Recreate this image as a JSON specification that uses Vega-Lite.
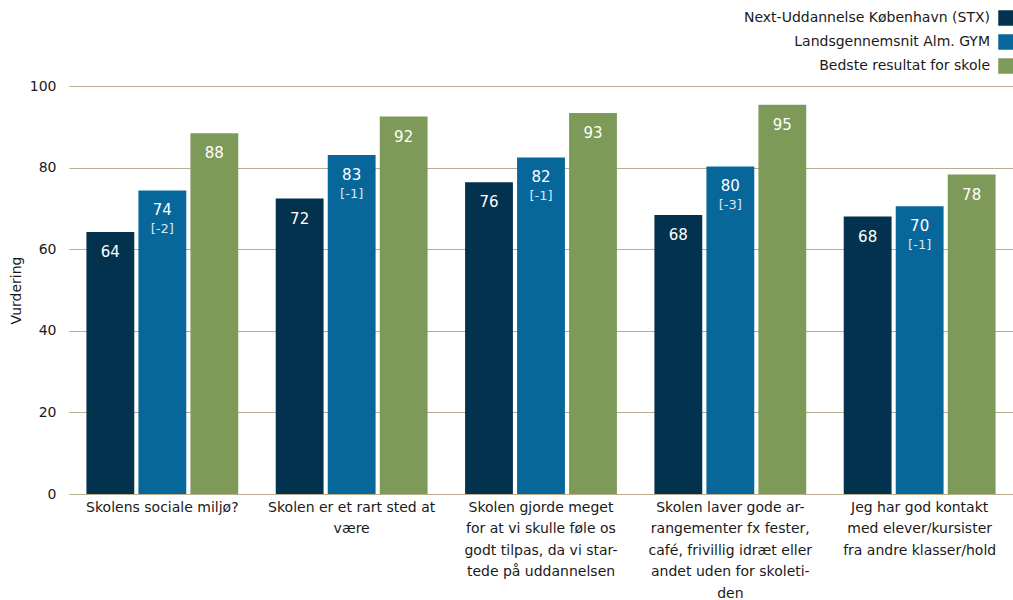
{
  "$schema": "https://vega.github.io/schema/vega-lite/v6.json",
  "width": 944,
  "height": 408,
  "autosize": {"type": "none"},
  "padding": {"left": 69, "top": 86, "right": 0, "bottom": 106},
  "background": "white",
  "config": {
    "font": "DejaVu Sans",
    "view": {"stroke": null},
    "axis": {"labelFont": "DejaVu Sans", "titleFont": "DejaVu Sans", "labelColor": "#1a1a1a", "titleColor": "#1a1a1a"}
  },
  "data": {
    "values": [
      {"q": "Skolens sociale miljø?", "s": "Next-Uddannelse København (STX)", "v": 64.2, "lab": "64", "diff": ""},
      {"q": "Skolens sociale miljø?", "s": "Landsgennemsnit Alm. GYM", "v": 74.4, "lab": "74", "diff": "[-2]"},
      {"q": "Skolens sociale miljø?", "s": "Bedste resultat for skole", "v": 88.4, "lab": "88", "diff": ""},
      {"q": "Skolen er et rart sted at|være", "s": "Next-Uddannelse København (STX)", "v": 72.4, "lab": "72", "diff": ""},
      {"q": "Skolen er et rart sted at|være", "s": "Landsgennemsnit Alm. GYM", "v": 83.1, "lab": "83", "diff": "[-1]"},
      {"q": "Skolen er et rart sted at|være", "s": "Bedste resultat for skole", "v": 92.5, "lab": "92", "diff": ""},
      {"q": "Skolen gjorde meget|for at vi skulle føle os|godt tilpas, da vi star-|tede på uddannelsen", "s": "Next-Uddannelse København (STX)", "v": 76.4, "lab": "76", "diff": ""},
      {"q": "Skolen gjorde meget|for at vi skulle føle os|godt tilpas, da vi star-|tede på uddannelsen", "s": "Landsgennemsnit Alm. GYM", "v": 82.5, "lab": "82", "diff": "[-1]"},
      {"q": "Skolen gjorde meget|for at vi skulle føle os|godt tilpas, da vi star-|tede på uddannelsen", "s": "Bedste resultat for skole", "v": 93.4, "lab": "93", "diff": ""},
      {"q": "Skolen laver gode ar-|rangementer fx fester,|café, frivillig idræt eller|andet uden for skoleti-|den", "s": "Next-Uddannelse København (STX)", "v": 68.4, "lab": "68", "diff": ""},
      {"q": "Skolen laver gode ar-|rangementer fx fester,|café, frivillig idræt eller|andet uden for skoleti-|den", "s": "Landsgennemsnit Alm. GYM", "v": 80.3, "lab": "80", "diff": "[-3]"},
      {"q": "Skolen laver gode ar-|rangementer fx fester,|café, frivillig idræt eller|andet uden for skoleti-|den", "s": "Bedste resultat for skole", "v": 95.4, "lab": "95", "diff": ""},
      {"q": "Jeg har god kontakt|med elever/kursister|fra andre klasser/hold", "s": "Next-Uddannelse København (STX)", "v": 68.0, "lab": "68", "diff": ""},
      {"q": "Jeg har god kontakt|med elever/kursister|fra andre klasser/hold", "s": "Landsgennemsnit Alm. GYM", "v": 70.5, "lab": "70", "diff": "[-1]"},
      {"q": "Jeg har god kontakt|med elever/kursister|fra andre klasser/hold", "s": "Bedste resultat for skole", "v": 78.3, "lab": "78", "diff": ""}
    ]
  },
  "encoding": {
    "x": {
      "field": "q", "type": "nominal", "sort": null, "title": null,
      "scale": {"paddingInner": 0.198, "paddingOuter": 0.092},
      "axis": {"labelExpr": "split(datum.label, '|')", "labelAngle": 0, "labelFontSize": 14, "labelLineHeight": 21.5, "labelPadding": 6, "ticks": false, "domain": false, "labelLimit": 200}
    },
    "xOffset": {
      "field": "s", "type": "nominal",
      "sort": ["Next-Uddannelse København (STX)", "Landsgennemsnit Alm. GYM", "Bedste resultat for skole"],
      "scale": {"paddingInner": 0.08, "paddingOuter": 0}
    },
    "y": {
      "field": "v", "type": "quantitative", "title": "Vurdering",
      "scale": {"domain": [0, 100], "nice": false},
      "axis": {"values": [0, 20, 40, 60, 80, 100], "grid": true, "gridColor": "#b9ae90", "gridWidth": 1.2, "domain": false, "ticks": false, "labelPadding": 13, "labelFontSize": 14, "titleFontSize": 14, "titleFontWeight": "normal", "titlePadding": 6}
    }
  },
  "layer": [
    {
      "mark": {"type": "bar"},
      "encoding": {
        "color": {
          "field": "s", "type": "nominal",
          "scale": {"domain": ["Next-Uddannelse København (STX)", "Landsgennemsnit Alm. GYM", "Bedste resultat for skole"], "range": ["#03324f", "#07669a", "#7e9a58"]},
          "legend": {
            "title": null, "orient": "none", "legendX": 929, "legendY": -76, "direction": "vertical",
            "symbolType": "square", "symbolSize": 240, "symbolStrokeWidth": 0, "symbolOpacity": 1,
            "labelAlign": "right", "labelOffset": -24, "labelFontSize": 14, "labelColor": "#1a1a1a", "labelLimit": 400,
            "rowPadding": 8, "padding": 0
          }
        }
      }
    },
    {
      "mark": {"type": "text", "baseline": "middle", "dy": 20, "fontSize": 15, "color": "#ffffff"},
      "encoding": {"text": {"field": "lab"}}
    },
    {
      "mark": {"type": "text", "baseline": "middle", "dy": 39, "fontSize": 13, "color": "#dce6ef"},
      "encoding": {"text": {"field": "diff"}}
    }
  ]
}
